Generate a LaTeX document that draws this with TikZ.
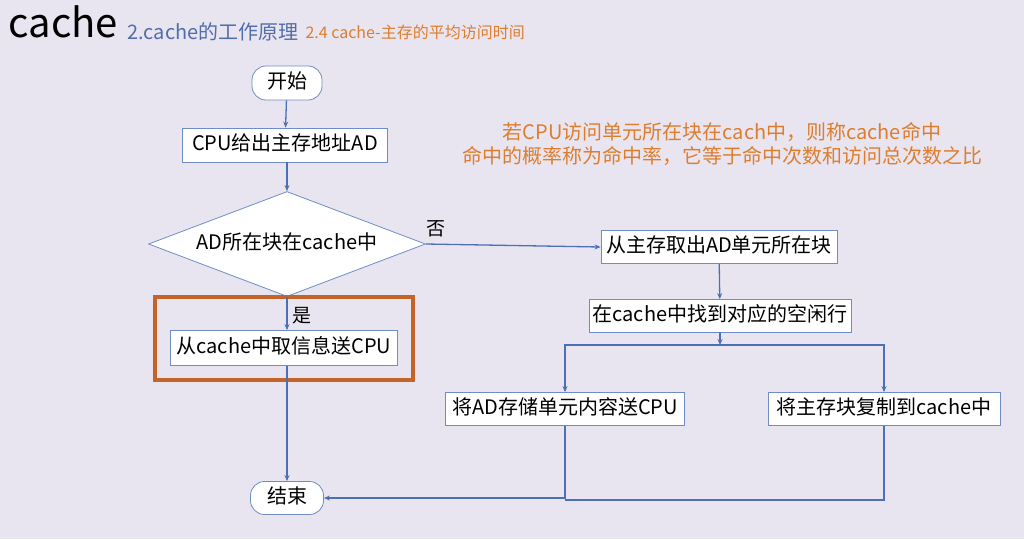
\documentclass[tikz,border=0pt]{standalone}
\usepackage{fontspec}
\setmainfont{Noto Sans CJK SC}
\usetikzlibrary{shapes.geometric,arrows.meta}
\definecolor{bg}{RGB}{233,229,240}
\definecolor{ln}{RGB}{75,112,182}
\definecolor{tblue}{RGB}{80,110,170}
\definecolor{torange}{RGB}{222,125,45}
\definecolor{hl}{RGB}{196,100,40}
\tikzset{
 box/.style={draw=ln!80, fill=white, line width=0.8pt, inner sep=0pt, font=\fontsize{20}{22}\selectfont, text height=15pt, text depth=4pt},
 conn/.style={draw=ln, line width=1.3pt},
 arr/.style={conn, -{Stealth[length=6pt,width=5pt]}},
}
\begin{document}
\begin{tikzpicture}[x=1pt,y=-1pt]
\fill[bg] (0,0) rectangle (1024,539);
\node[anchor=west, font=\fontsize{40}{44}\selectfont] (t1) at (5,22) {cache};
\node[anchor=west, text=tblue, font=\fontsize{20}{22}\selectfont] (t2) at (124,32) {2.cache的工作原理};
\node[anchor=west, text=torange, font=\fontsize{16}{18}\selectfont] (t3) at (302,32) {2.4 cache-主存的平均访问时间};
\node[text=torange, font=\fontsize{20}{22}\selectfont, align=center] (note) at (722,144) {若CPU访问单元所在块在cach中，则称cache命中\\[2pt]命中的概率称为命中率，它等于命中次数和访问总次数之比};

\node[box, rounded corners=14pt, minimum width=70pt, minimum height=34pt] (start) at (287,83) {开始};
\node[box, minimum width=205pt, minimum height=34pt] (cpu) at (285,145) {CPU给出主存地址AD};
\node[box, diamond, aspect=2.64, minimum width=277pt, minimum height=105pt] (dec) at (287,244) {AD所在块在cache中};
\node[box, minimum width=227pt, minimum height=35pt] (hit) at (284,348) {从cache中取信息送CPU};
\node[box, rounded corners=14pt, minimum width=73pt, minimum height=33pt] (end) at (287,498) {结束};
\node[box, minimum width=236pt, minimum height=33pt] (fetch) at (719,247) {从主存取出AD单元所在块};
\node[box, minimum width=262pt, minimum height=33pt] (find) at (720,316) {在cache中找到对应的空闲行};
\node[box, minimum width=239pt, minimum height=33pt] (send) at (565,409) {将AD存储单元内容送CPU};
\node[box, minimum width=232pt, minimum height=33pt] (copy) at (884,409) {将主存块复制到cache中};

\node[font=\fontsize{19}{21}\selectfont] (no) at (436,229) {否};
\node[font=\fontsize{19}{21}\selectfont] (yes) at (302,316) {是};

\draw[hl, line width=4pt] (155,297) rectangle (413,380);

\draw[arr] (start) -- (cpu);
\draw[arr] (cpu.south -| start) -- (dec);
\draw[arr] (dec.south) -- (dec.south |- hit.north);
\draw[arr] (hit.south -| end) -- (end);
\draw[arr] (dec.east) -- (fetch.west);
\draw[arr] (fetch) -- (find);
\coordinate (split) at (720,345);
\draw[arr] (find.south) -- (split);
\draw[arr] (split) -| (send.north);
\draw[arr] (split) -| (copy.north);
\coordinate (jn) at (565,500);
\draw[conn] (copy.south) |- (jn);
\draw[arr] (send.south) |- (end.east);
\end{tikzpicture}
\end{document}
